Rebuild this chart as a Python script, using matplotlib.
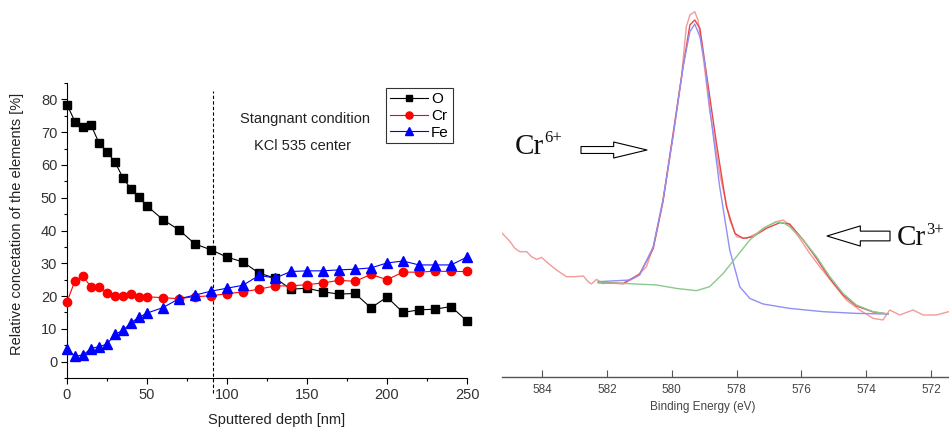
import matplotlib.pyplot as plt
from matplotlib.ticker import MultipleLocator

plt.rcParams['font.family'] = ['Liberation Sans', 'DejaVu Sans']

# ---- left panel: depth profile ----
depth = [0, 5, 10, 15, 20, 25, 30, 35, 40, 45, 50, 60, 70, 80, 90, 100, 110,
         120, 130, 140, 150, 160, 170, 180, 190, 200, 210, 220, 230, 240, 250]
oxygen = [78.4, 73.2, 71.7, 72.2, 66.7, 64.0, 60.9, 56.0, 52.7, 50.3, 47.5,
          43.3, 40.2, 35.9, 34.1, 31.9, 30.4, 27.0, 25.5, 22.1, 22.4, 21.3,
          20.6, 20.8, 16.4, 19.7, 15.0, 15.8, 16.0, 16.8, 12.4]
chromium = [18.2, 24.7, 26.0, 22.8, 22.9, 21.0, 20.1, 20.1, 20.5, 19.8, 19.8,
            19.5, 19.2, 19.8, 20.1, 20.7, 21.3, 22.1, 23.1, 23.1, 23.5, 24.0,
            24.8, 24.5, 26.6, 25.0, 27.3, 27.3, 27.6, 27.5, 27.5]
iron = [3.8, 1.7, 2.0, 4.0, 4.6, 5.3, 8.4, 9.5, 11.9, 13.5, 14.8, 16.5, 19.2,
        20.3, 21.5, 22.4, 23.3, 26.3, 25.5, 27.5, 27.7, 27.7, 28.0, 28.2, 28.6,
        30.1, 30.7, 29.5, 29.5, 29.5, 31.9]
divider_depth = 91

# ---- right panel: Cr 2p XPS spectrum ----
raw_be = [585.23, 584.99, 584.84, 584.69, 584.48, 584.33, 584.17, 584.02,
          583.81, 583.56, 583.25, 582.99, 582.73, 582.58, 582.48, 582.32,
          582.12, 582.01, 581.50, 581.09, 580.78, 580.57, 580.27, 579.96,
          579.70, 579.55, 579.44, 579.29, 579.19, 579.03, 578.83, 578.52,
          578.21, 578.00, 577.69, 577.38, 577.08, 576.77, 576.56, 576.36,
          576.05, 575.74, 575.43, 575.02, 574.61, 574.20, 573.78, 573.48,
          573.27, 572.96, 572.55, 572.24, 571.83, 571.45]
raw_int = [143.3, 135.0, 128.3, 125.0, 125.0, 120.0, 117.3, 119.3, 113.3,
           106.7, 100.0, 100.0, 100.7, 95.0, 92.7, 97.3, 93.0, 94.0, 92.7,
           100.0, 110.0, 130.0, 176.7, 243.3, 300.0, 350.0, 361.7, 365.0,
           356.7, 320.0, 266.7, 203.3, 156.7, 140.0, 138.3, 143.3, 150.0,
           155.0, 156.7, 151.7, 138.3, 123.3, 110.0, 93.3, 76.7, 66.7, 58.3,
           56.7, 66.7, 61.7, 66.7, 61.7, 61.7, 65.0]

env_be = [582.27, 581.50, 580.99, 580.57, 580.27, 579.96, 579.65, 579.44,
          579.29, 579.13, 578.93, 578.62, 578.31, 578.05, 577.80, 577.49,
          577.08, 576.66, 576.36, 575.94, 575.53, 575.12, 574.71, 574.30,
          573.78, 573.32]
env_int = [94.0, 93.3, 102.7, 128.3, 175.0, 241.7, 310.0, 351.7, 356.7, 348.3,
           303.3, 233.3, 170.0, 143.3, 138.3, 140.0, 148.3, 154.0, 152.7,
           136.7, 118.3, 98.3, 81.7, 70.7, 64.7, 62.7]

cr6_be = [582.27, 581.29, 580.99, 580.57, 580.27, 579.96, 579.65, 579.44,
          579.29, 579.13, 578.98, 578.83, 578.52, 578.21, 577.90, 577.59,
          577.18, 576.36, 575.33, 574.30, 573.32]
cr6_int = [95.0, 96.7, 101.7, 130.0, 176.7, 240.0, 310.0, 345.0, 352.7, 340.0,
           313.3, 270.0, 190.0, 126.7, 90.0, 78.3, 72.7, 68.3, 65.0, 63.3, 62.7]

cr3_be = [582.27, 581.50, 580.47, 579.86, 579.24, 578.83, 578.41, 578.00,
          577.59, 577.18, 576.77, 576.56, 576.36, 575.94, 575.53, 575.12,
          574.71, 574.30, 573.78, 573.32]
cr3_int = [94.0, 93.3, 91.7, 88.3, 86.0, 90.0, 103.3, 120.0, 136.7, 148.3,
           155.0, 154.0, 150.0, 136.7, 120.0, 100.0, 83.3, 71.7, 65.0, 62.7]

fig = plt.figure(figsize=(9.49, 4.30), dpi=100)

ax1 = fig.add_axes([0.0706, 0.1209, 0.4215, 0.686])
ax1.plot(depth, oxygen, color='black', lw=0.8, marker='s', ms=5.5,
         label='O', clip_on=False, zorder=3)
ax1.plot(depth, chromium, color='red', lw=0.8, marker='o', ms=6,
         label='Cr', clip_on=False, zorder=3)
ax1.plot(depth, iron, color='blue', lw=0.8, marker='^', ms=6.5,
         label='Fe', clip_on=False, zorder=3)
ax1.plot([divider_depth, divider_depth], [-9.5, 82.5], color='black',
         lw=0.8, ls=(0, (3, 2)), clip_on=False)

ax1.set_xlim(0, 250)
ax1.set_ylim(-5, 85)
ax1.xaxis.set_major_locator(MultipleLocator(50))
ax1.xaxis.set_minor_locator(MultipleLocator(25))
ax1.yaxis.set_major_locator(MultipleLocator(10))
ax1.yaxis.set_minor_locator(MultipleLocator(5))
ax1.set_yticks(range(0, 81, 10))
ax1.tick_params(which='both', direction='out', labelsize=10.5,
                labelcolor='#333333', width=0.8)
ax1.tick_params(which='major', length=4, pad=3)
ax1.tick_params(which='minor', length=2.5)
for side in ('top', 'right'):
    ax1.spines[side].set_visible(False)
for side in ('left', 'bottom'):
    ax1.spines[side].set_linewidth(0.8)

ax1.set_xlabel('Sputtered depth [nm]', fontsize=10.5, color='#222222')
ax1.xaxis.set_label_coords(0.523, -0.118)
ax1.set_ylabel('Relative concetation of the elements [%]', fontsize=10.5,
               color='#222222')
ax1.yaxis.set_label_coords(-0.108, 0.524)
ax1.text(149, 73.9, 'Stangnant condition', fontsize=10.5, ha='center',
         va='center', color='#222222')
ax1.text(147, 65.7, 'KCl 535 center', fontsize=10.5, ha='center',
         va='center', color='#222222')

leg = ax1.legend(loc='upper right', bbox_to_anchor=(0.964, 0.982),
                 fontsize=11, frameon=True, fancybox=False,
                 handlelength=2.5, handletextpad=0.2, borderpad=0.25,
                 labelspacing=0.18, borderaxespad=0, markerscale=0.85)
leg.get_frame().set_edgecolor('black')
leg.get_frame().set_linewidth(0.8)

ax2 = fig.add_axes([0.529, 0.124, 0.471, 0.876])
ax2.plot(raw_be, raw_int, color='#f49a9a', lw=1.0)
ax2.plot(env_be, env_int, color='#e8474a', lw=1.0)
ax2.plot(cr6_be, cr6_int, color='#8f8ff5', lw=1.0)
ax2.plot(cr3_be, cr3_int, color='#8cc98c', lw=1.0)

ax2.set_xlim(585.24, 571.44)
ax2.set_ylim(0, 376.7)
ax2.set_xticks(range(584, 571, -2))
ax2.set_yticks([])
for side in ('top', 'right', 'left'):
    ax2.spines[side].set_visible(False)
ax2.spines['bottom'].set_color('#555555')
ax2.spines['bottom'].set_linewidth(1.0)
ax2.tick_params(axis='x', direction='in', length=5, color='#555555',
                labelsize=8.5, labelcolor='#444444', pad=5)
ax2.set_xlabel('Binding Energy (eV)', fontsize=8.5, color='#444444')
ax2.xaxis.set_label_coords(0.45, -0.065)

# species labels, Times-like, placed in figure pixels
serif = ['Liberation Serif', 'DejaVu Serif']
ax2.text(515, 430 - 154, 'Cr', fontsize=21, family=serif, transform=None,
         va='baseline', ha='left', color='#111111')
ax2.text(544, 430 - 142, '6+', fontsize=12, family=serif, transform=None,
         va='baseline', ha='left', color='#111111')
ax2.text(897, 430 - 245, 'Cr', fontsize=21, family=serif, transform=None,
         va='baseline', ha='left', color='#111111')
ax2.text(926, 430 - 234, '3+', fontsize=12, family=serif, transform=None,
         va='baseline', ha='left', color='#111111')

ax2.annotate('', xy=(647, 430 - 150), xytext=(581, 430 - 150),
             xycoords='figure pixels', textcoords='figure pixels',
             arrowprops=dict(arrowstyle='simple,head_length=2.4,'
                                        'head_width=1.15,tail_width=0.5',
                             fc='white', ec='black', lw=0.8,
                             shrinkA=0, shrinkB=0, mutation_scale=10))
ax2.annotate('', xy=(827, 430 - 236), xytext=(890, 430 - 236),
             xycoords='figure pixels', textcoords='figure pixels',
             arrowprops=dict(arrowstyle='simple,head_length=2.4,'
                                        'head_width=1.45,tail_width=0.7',
                             fc='white', ec='black', lw=0.8,
                             shrinkA=0, shrinkB=0, mutation_scale=10))

fig.savefig('out.png', dpi=100)
